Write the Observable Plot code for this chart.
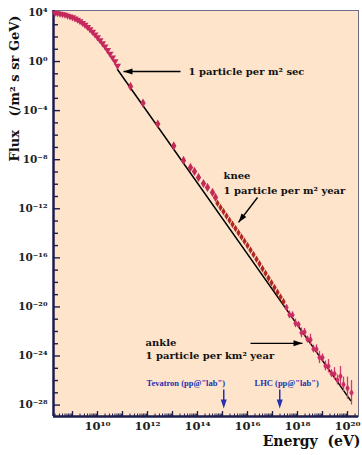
<!DOCTYPE html>
<html><head><meta charset="utf-8">
<script src="https://cdn.jsdelivr.net/npm/d3@7"></script>
<script src="https://cdn.jsdelivr.net/npm/@observablehq/plot@0.6"></script>
<style>body{margin:0;background:#fff}#chart svg{display:block}</style>
</head><body><div id="chart"></div>
<script>
// ---- data (log10 values) ----
const lowLogE = [8.30,8.40,8.50,8.60,8.70,8.80,8.90,9.00,9.10,9.20,9.30,9.40,9.50,9.60,9.70,9.80,9.90,10.00,10.10,10.20,10.30,10.40,10.50,10.60,10.70,10.80];
const lowLogF = [3.95,3.93,3.90,3.86,3.81,3.74,3.67,3.60,3.51,3.40,3.28,3.14,2.99,2.82,2.62,2.42,2.20,1.97,1.73,1.48,1.22,0.93,0.64,0.33,0.02,-0.35];

const midLogE = [11.32,11.82,12.41,13.05,13.44,13.72,13.88,14.04,14.24,14.40,14.60,14.72];
const midLogF = [-2.03,-3.38,-5.09,-6.88,-8.06,-8.63,-8.96,-9.45,-9.94,-10.26,-10.67,-11.08];

const kneeLogE = [14.80,14.92,15.04,15.16,15.28,15.40,15.52,15.64,15.76,15.88,16.00,16.12,16.24,16.36,16.48,16.60,16.72,16.84,16.96,17.08,17.20,17.32,17.44];
const kneeLogF = [-11.55,-11.89,-12.23,-12.59,-12.93,-13.27,-13.61,-13.96,-14.30,-14.65,-14.99,-15.36,-15.72,-16.11,-16.49,-16.88,-17.26,-17.65,-18.03,-18.42,-18.80,-19.19,-19.57];

const ankleLogE = [17.56,17.68,17.80,17.92,18.04,18.16,18.28,18.40,18.52,18.64,18.76,18.88,19.00,19.12,19.24,19.36,19.48,19.60,19.72,19.84,20.00,20.16];
const ankleLogF = [-20.05,-20.64,-20.66,-21.34,-21.44,-22.11,-22.05,-22.64,-22.67,-23.42,-23.44,-24.12,-24.13,-24.81,-24.83,-25.42,-25.45,-25.95,-25.65,-26.32,-26.62,-27.00];
const ankleErr  = [0.20,0.30,0.25,0.35,0.20,0.40,0.30,0.25,0.45,0.30,0.35,0.50,0.30,0.40,0.55,0.30,0.50,0.40,0.80,0.60,0.90,1.00];

const fitLogE = [10.80, 20.12];
const fitLogF = [-0.65, -27.62];

const yLabelExps = [4,0,-4,-8,-12,-16,-20,-24,-28];
const xLabelExps = [10,12,14,16,18,20];

const notes = [
  {e:13.64, f:-0.81,  t:"1 particle per m² sec"},
  {e:15.04, f:-9.28,  t:"knee"},
  {e:15.04, f:-10.51, t:"1 particle per m² year"},
  {e:11.92, f:-22.89, t:"ankle"},
  {e:11.92, f:-23.95, t:"1 particle per km² year"}
];
const arrows = [
  {e1:13.32, f1:-0.81,  e2:11.04, f2:-0.81,  rot:0},
  {e1:16.40, f1:-11.08, e2:15.64, f2:-13.11, rot:-52.8},
  {e1:16.12, f1:-22.97, e2:18.20, f2:-22.97, rot:180}
];
const accel = [
  {name:"Tevatron (pp@\"lab\")", textE:11.96, arrowE:15.05},
  {name:"LHC (pp@\"lab\")",      textE:16.28, arrowE:17.29}
];
const accelTextF = -26.24, accelArrowTop = -26.73, accelArrowTip = -28.27;

const xDomainLog = [8.24, 20.44];
const yDomainLog = [-28.93, 4.16];

// ---- helpers ----
const SUP = {"0":"⁰","1":"¹","2":"²","3":"³","4":"⁴","5":"⁵","6":"⁶","7":"⁷","8":"⁸","9":"⁹","-":"⁻"};
const powLabel = v => { const n = Math.round(Math.log10(v)); return "10" + String(n).split("").map(c => SUP[c]).join(""); };
const p = x => 10 ** x;
const rows = (E, F, extra) => E.map((e, i) => Object.assign({E: p(e), F: p(F[i])}, extra ? extra(i) : {}));

const low = rows(lowLogE, lowLogF);
const mid = rows(midLogE, midLogF);
const knee = rows(kneeLogE, kneeLogF);
const ankle = rows(ankleLogE, ankleLogF, i => ({lo: p(ankleLogF[i] - ankleErr[i]), hi: p(ankleLogF[i] + ankleErr[i])}));
const fit = rows(fitLogE, fitLogF);

const yMajor = yLabelExps.map(p);
const yMinor = d3.range(-28, 5).filter(n => !yLabelExps.includes(n)).map(p);
const xLabels = xLabelExps.map(p);
const xDecades = d3.range(9, 21).map(p);
const xMinor = [];
for (let n = 8; n <= 20; n++) for (let k = 2; k <= 9; k++) { const v = k * 10 ** n; if (Math.log10(v) > xDomainLog[0] && Math.log10(v) < xDomainLog[1]) xMinor.push(v); }

const headLeft = {draw(ctx) { ctx.moveTo(0, 0); ctx.lineTo(9, -3); ctx.lineTo(9, 3); ctx.closePath(); }};

const navy = "#1d1d4d";
const serif = "DejaVu Serif";
const blue = "#2630b0";

const chart = Plot.plot({
  width: 362, height: 455,
  marginLeft: 53, marginRight: 4, marginTop: 10, marginBottom: 39,
  style: {fontFamily: serif, background: "#ffffff", overflow: "visible"},
  x: {type: "log", domain: xDomainLog.map(p), label: null},
  y: {type: "log", domain: yDomainLog.map(p), label: null},
  marks: [
    Plot.frame({fill: "#fde4cb", stroke: "#6b6b88", strokeWidth: 1}),
    // axes
    Plot.axisY({ticks: yMajor, tickFormat: powLabel, tickSize: -7, tickPadding: 13, stroke: navy, strokeWidth: 1.4, fontSize: 10.5, fontWeight: "bold", fill: "#222", label: null}),
    Plot.axisY({ticks: yMinor, tickFormat: () => "", tickSize: -5, stroke: navy, strokeWidth: 1.4, label: null}),
    Plot.axisX({ticks: xLabels, tickFormat: powLabel, tickSize: 0, tickPadding: 5, fontSize: 11.5, fontWeight: "bold", fill: "#222", label: null}),
    Plot.axisX({ticks: xDecades, tickFormat: () => "", tickSize: -5, stroke: navy, strokeWidth: 1.3, label: null}),
    Plot.axisX({ticks: xMinor, tickFormat: () => "", tickSize: -2.5, stroke: navy, strokeWidth: 1, label: null}),
    Plot.ruleX([p(xDomainLog[0])], {stroke: navy, strokeWidth: 2.5}),
    Plot.ruleY([p(yDomainLog[0])], {stroke: navy, strokeWidth: 2.5}),
    // fit line
    Plot.line(fit, {x: "E", y: "F", stroke: "#000", strokeWidth: 1.5}),
    // data
    Plot.dot(low, {x: "E", y: "F", symbol: "triangle", r: 2.6, fill: "#c4285c", rotate: 180}),
    Plot.dot(mid, {x: "E", y: "F", symbol: "diamond", r: 2.8, fill: "#c42a56"}),
    Plot.dot(knee, {x: "E", y: "F", symbol: "diamond", r: 2.3, fill: "#b02822"}),
    Plot.ruleX(ankle, {x: "E", y1: "lo", y2: "hi", stroke: "#d23a72", strokeWidth: 1.3}),
    Plot.dot(ankle, {x: "E", y: "F", symbol: "diamond", r: 2.3, fill: "#cc2c64"}),
    // annotations
    Plot.link(arrows, {x1: d => p(d.e1), y1: d => p(d.f1), x2: d => p(d.e2), y2: d => p(d.f2), stroke: "#000", strokeWidth: 1.4}),
    Plot.dot(arrows, {x: d => p(d.e2), y: d => p(d.f2), symbol: headLeft, rotate: "rot", fill: "#000", r: 3}),
    Plot.text(notes, {x: d => p(d.e), y: d => p(d.f), text: "t", textAnchor: "start", fontSize: 10, fontWeight: "bold", fill: "#111"}),
    Plot.text(accel, {x: d => p(d.textE), y: p(accelTextF), text: "name", textAnchor: "start", fontSize: 8.5, fontWeight: "bold", fontFamily: "Liberation Serif", fill: blue}),
    Plot.link(accel, {x1: d => p(d.arrowE), x2: d => p(d.arrowE), y1: p(accelArrowTop), y2: p(accelArrowTip + 0.5), stroke: blue, strokeWidth: 1.5}),
    Plot.dot(accel, {x: d => p(d.arrowE), y: p(accelArrowTip), symbol: headLeft, rotate: -90, fill: blue, r: 3}),
    // titles
    Plot.text(["Flux\u00a0\u00a0\u00a0(/m² s sr GeV)"], {frameAnchor: "top-left", dx: -39, dy: 78, rotate: -90, textAnchor: "middle", lineAnchor: "middle", fontSize: 13, fontWeight: "bold", fill: "#111"}),
    Plot.text(["Energy\u00a0\u00a0(eV)"], {frameAnchor: "bottom-right", dx: 2, dy: 25, textAnchor: "end", lineAnchor: "middle", fontSize: 14, fontWeight: "bold", fill: "#111"})
  ]
});
document.getElementById("chart").appendChild(chart);
</script>
</body></html>
